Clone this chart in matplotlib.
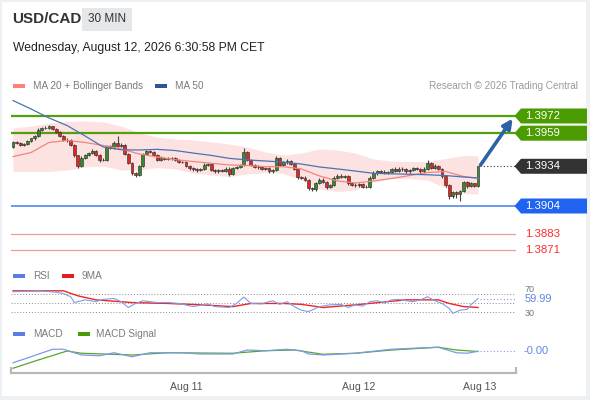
import matplotlib
matplotlib.use("Agg")
import matplotlib.pyplot as plt
from matplotlib.patches import Rectangle, Polygon
from matplotlib import transforms

plt.rcParams['font.family'] = ['Liberation Sans', 'DejaVu Sans']

# ---------------- data ----------------
title = "USD/CAD"
period = "30 MIN"
stamp = "Wednesday, August 12, 2026 6:30:58 PM CET"

first_open = 1.39486
closes = [
    1.39524, 1.39516, 1.39501, 1.39508, 1.39531, 1.39550, 1.39569, 1.39614, 1.39629, 1.39633,
    1.39641, 1.39622, 1.39599, 1.39569, 1.39542, 1.39535, 1.39501, 1.39422, 1.39342, 1.39403,
    1.39425, 1.39440, 1.39456, 1.39425, 1.39391, 1.39388, 1.39493, 1.39478, 1.39516, 1.39493,
    1.39501, 1.39433, 1.39365, 1.39289, 1.39274, 1.39342, 1.39433, 1.39456, 1.39448, 1.39425,
    1.39388, 1.39400, 1.39395, 1.39399, 1.39403, 1.39388, 1.39376, 1.39372, 1.39342, 1.39325,
    1.39316, 1.39312, 1.39320, 1.39350, 1.39354, 1.39312, 1.39301, 1.39312, 1.39304, 1.39323,
    1.39282, 1.39327, 1.39335, 1.39350, 1.39448, 1.39388, 1.39350, 1.39337, 1.39331, 1.39320,
    1.39327, 1.39301, 1.39312, 1.39399, 1.39350, 1.39369, 1.39380, 1.39357, 1.39320, 1.39259,
    1.39255, 1.39236, 1.39176, 1.39165, 1.39214, 1.39240, 1.39221, 1.39184, 1.39199, 1.39255,
    1.39270, 1.39259, 1.39263, 1.39214, 1.39202, 1.39195, 1.39206, 1.39187, 1.39184, 1.39255,
    1.39286, 1.39304, 1.39297, 1.39293, 1.39297, 1.39316, 1.39308, 1.39323, 1.39316, 1.39301,
    1.39312, 1.39327, 1.39320, 1.39301, 1.39323, 1.39365, 1.39327, 1.39342, 1.39320, 1.39263,
    1.39199, 1.39112, 1.39146, 1.39134, 1.39153, 1.39221, 1.39191, 1.39210, 1.39191, 1.39340,
]
# wick lengths in pips above / below the body
up_wick = [
    1, 1, 0.5, 1, 1, 0.5, 1, 1.5, 1, 1,
    1, 0.5, 1, 1, 0.5, 1, 1, 0.5, 0.5, 1.5,
    1, 1, 1.5, 0.5, 1, 1, 1, 1, 1.5, 5,
    1.5, 1, 0.5, 0.5, 1, 1, 1, 1, 1, 1,
    1, 1.5, 1, 1, 1, 1, 1, 0.5, 1, 1,
    1, 1, 1, 1.5, 1, 1, 1, 1, 1, 1,
    1, 1, 1, 1, 3, 1, 1, 1, 1, 1,
    1, 1, 1, 2, 1, 1, 1.5, 1, 1, 0.5,
    1, 1, 1, 1, 1, 1.5, 1, 1, 1, 1,
    1, 1.5, 1, 1, 1, 1, 1, 1, 1, 1,
    1.5, 1, 1, 1.5, 1, 1, 1.5, 1, 1, 1,
    1, 1, 1, 1, 1, 2, 1, 1.5, 1, 1,
    1, 0.5, 1, 1, 1, 1, 1, 1, 0.5, 0.5,
]
dn_wick = [
    1, 1, 1, 0.5, 1, 1, 1, 1, 0.5, 1,
    1, 1, 1, 1, 1, 1, 1, 1, 1.5, 1,
    1, 1, 1, 1, 1.5, 1, 1, 1, 1, 1,
    1, 1, 1, 1.5, 1.5, 1, 1, 1, 1, 1,
    1, 0.5, 1, 1, 1.5, 1, 1, 1, 0.5, 1.5,
    1, 1.5, 1, 1, 1, 1, 1.5, 1, 1, 1,
    1.5, 1, 1, 1, 1, 1, 1, 1, 1.5, 1,
    1, 1, 1, 1, 1, 1, 1, 1, 1, 1.5,
    1, 1, 1.5, 1, 1, 1, 1, 1.5, 1, 1,
    1, 1, 1, 1.5, 1, 1, 1, 1, 1, 1,
    1, 1, 1, 1, 1, 1, 1, 1, 1, 1,
    1, 1, 1, 1, 1, 1, 1, 1, 1, 1.5,
    1.5, 2, 1, 3, 5.5, 1, 1.5, 1, 1, 0.5,
]

# moving averages / bands sampled every 5 candles
ma_idx = [0, 5, 10, 15, 20, 25, 30, 35, 40, 45, 50, 55, 60, 65, 70, 75, 80, 85, 90,
          95, 100, 105, 110, 115, 120, 125, 129]
ma50 = [1.39837, 1.39773, 1.39705, 1.39648, 1.39569, 1.39486, 1.39465, 1.39463, 1.39468,
        1.39459, 1.39440, 1.39422, 1.39400, 1.39388, 1.39380, 1.39372, 1.39357, 1.39335,
        1.39320, 1.39304, 1.39287, 1.39283, 1.39280, 1.39276, 1.39270, 1.39259, 1.39252]
ma20 = [1.39413, 1.39444, 1.39520, 1.39535, 1.39520, 1.39497, 1.39471, 1.39433, 1.39410,
        1.39390, 1.39376, 1.39363, 1.39350, 1.39346, 1.39337, 1.39337, 1.39320, 1.39267,
        1.39229, 1.39214, 1.39229, 1.39248, 1.39270, 1.39293, 1.39301, 1.39263, 1.39248]
bb_up = [1.39629, 1.39644, 1.39667, 1.39678, 1.39682, 1.39675, 1.39644, 1.39592, 1.39561,
         1.39546, 1.39539, 1.39524, 1.39508, 1.39486, 1.39448, 1.39425, 1.39440, 1.39471,
         1.39463, 1.39440, 1.39395, 1.39380, 1.39376, 1.39376, 1.39399, 1.39422, 1.39418]
bb_lo = [1.39301, 1.39301, 1.39301, 1.39312, 1.39335, 1.39342, 1.39312, 1.39312, 1.39331,
         1.39320, 1.39289, 1.39274, 1.39263, 1.39282, 1.39293, 1.39286, 1.39236, 1.39168,
         1.39150, 1.39161, 1.39221, 1.39248, 1.39248, 1.39236, 1.39176, 1.39134, 1.39131]

# key levels
res_levels = [1.3972, 1.3959]
last_price = 1.3934
piv_level = 1.3904
sup_levels = [1.3883, 1.3871]

# RSI and its 9-period MA
rsi_idx = [0, 7, 12, 14, 16, 17, 20, 23, 25, 28, 30, 32, 34, 36, 40, 43, 46, 50, 54, 56,
           60, 62, 64, 66, 69, 71, 72, 74, 76, 78, 80, 82, 85, 88, 91, 93, 95, 97, 99, 101,
           103, 105, 107, 109, 111, 113, 115, 117, 119, 121, 122, 124, 126, 127, 129]
rsi_val = [75, 77, 74, 71, 64, 51, 57, 53, 58, 60, 53, 40, 49, 55, 51, 51, 49, 42, 48, 42,
           40, 49, 63, 49, 48, 53, 55, 47, 53, 42, 34, 31, 42, 46, 47, 40, 46, 43, 53, 55,
           50, 57, 58, 55, 53, 57, 64, 55, 49, 38, 27, 34, 36, 46, 59.99]
rma_idx = [0, 14, 18, 23, 33, 43, 52, 61, 66, 75, 80, 86, 95, 104, 109, 118, 121, 125, 129]
rma_val = [77, 77, 66, 57, 51, 49, 46, 42, 49, 49, 47, 40, 46, 53, 57, 57, 49, 42, 40]
rsi_levels = [70, 50, 30]

# MACD and signal
macd_idx = [0, 5, 11, 14, 17, 19, 24, 28, 33, 38, 47, 52, 61, 65, 70, 76, 80, 82, 86, 95,
            105, 114, 118, 123, 126, 129]
macd_val = [-0.00047, -0.00023, 0.00007, 0.00007, -0.00007, -0.00016, -0.00019, -0.00007,
            -0.00023, -0.00007, -0.00007, -0.00012, -0.00012, 0.00004, 0.00001, 0.00007,
            0.00001, -0.00012, -0.00016, -0.00009, 0.00007, 0.00013, 0.00015, -0.00007,
            -0.00009, -0.00001]
sig_idx = [0, 7, 15, 19, 33, 43, 61, 70, 78, 86, 95, 105, 118, 123, 129]
sig_val = [-0.00069, -0.00036, 0.0, -0.00009, -0.00016, -0.00007, -0.00009, 0.00001,
           0.00004, -0.00013, -0.00009, 0.00004, 0.00015, 0.00004, -0.00002]

date_ticks = [48, 96, 129.5]
date_labels = ["Aug 11", "Aug 12", "Aug 13"]

# ---------------- layout helpers ----------------
W, H = 590, 400
fig = plt.figure(figsize=(W / 100, H / 100), dpi=100)
fig.patch.set_facecolor('#eef1f4')
fig.add_artist(Rectangle((2 / W, 1 - 396 / H), 584 / W, 394 / H, transform=fig.transFigure,
                         facecolor='white', edgecolor='none', zorder=0))


def fx(x):
    return x / W


def fy(y):
    return 1 - y / H


XL = (-0.555, 139.53)
AX_L, AX_W = fx(11), 505 / W

# ---------------- header ----------------
fig.text(fx(12), fy(19), title, fontsize=11, fontweight='bold', color='#333333',
         va='center', ha='left')
fig.add_artist(Rectangle((fx(82), fy(31)), 50 / W, 23 / H, transform=fig.transFigure,
                         facecolor='#e6e7e9', edgecolor='none'))
fig.text(fx(107), fy(19.5), period, fontsize=8.5, color='#333333', va='center', ha='center')
fig.text(fx(13), fy(48), stamp, fontsize=8.7, color='#222222', va='center', ha='left')

# legend row
fig.add_artist(Rectangle((fx(13), fy(88)), 12 / W, 4 / H, transform=fig.transFigure,
                         facecolor='#ff7f7f', edgecolor='none'))
fig.text(fx(33), fy(86), "MA 20 + Bollinger Bands", fontsize=7.2, color='#7a7a7a', va='center')
fig.add_artist(Rectangle((fx(155), fy(88)), 12 / W, 4 / H, transform=fig.transFigure,
                         facecolor='#2f5597', edgecolor='none'))
fig.text(fx(175), fy(86), "MA 50", fontsize=7.2, color='#7a7a7a', va='center')
fig.text(fx(578), fy(86), "Research \u00a9 2026 Trading Central", fontsize=7.2,
         color='#9a9a9a', va='center', ha='right')

# ---------------- main price panel ----------------
ax = fig.add_axes([AX_L, fy(262), AX_W, 167 / H])
ax.set_xlim(*XL)
ax.set_ylim(1.386169, 1.398786)
ax.axis('off')

ax.fill_between(ma_idx, bb_lo, bb_up, color='#fde2e2', lw=0, zorder=1)

opens = [first_open] + closes[:-1]
for i, (o, c) in enumerate(zip(opens, closes)):
    top, bot = max(o, c), min(o, c)
    hi = top + up_wick[i] * 0.0001
    lo = bot - dn_wick[i] * 0.0001
    col = '#358a2c' if c >= o else '#e3241f'
    ax.vlines(i, lo, hi, color='#444444', lw=0.8, zorder=3)
    ax.bar(i, max(top - bot, 0.00003), bottom=bot, width=0.8, color=col,
           edgecolor='#333333', lw=0.45, zorder=4)

ax.plot(ma_idx, ma20, color='#f4847c', lw=0.9, zorder=5)
ax.plot(ma_idx, ma50, color='#4a73b5', lw=0.9, zorder=5)

for p in res_levels:
    ax.axhline(p, color='#52a00f', lw=1.6, zorder=2)
ax.axhline(piv_level, color='#4f89ee', lw=1.2, zorder=2)
for p in sup_levels:
    ax.axhline(p, color='#f39a9a', lw=0.9, zorder=2)

ax.plot([len(closes) - 0.5, XL[1]], [last_price, last_price], ls=(0, (1, 2)),
        color='#333333', lw=0.8, zorder=2)

blend = transforms.blended_transform_factory(ax.transAxes, ax.transData)
half = 7.5 / 13236


def ax_frac(px):
    return (px - 11) / 505


def tag(p, fc):
    poly = Polygon([(ax_frac(514.5), p), (ax_frac(521), p + half), (ax_frac(587), p + half),
                    (ax_frac(587), p - half), (ax_frac(521), p - half)], closed=True,
                   transform=blend, facecolor=fc, edgecolor='none', clip_on=False, zorder=6)
    ax.add_patch(poly)
    ax.text(ax_frac(525), p, f"{p:.4f}", transform=blend, color='white', fontsize=8.2,
            va='center', ha='left', clip_on=False, zorder=7)


for p in res_levels:
    tag(p, '#4a9c00')
tag(last_price, '#333333')
tag(piv_level, '#1f63f0')
for p in sup_levels:
    ax.text(ax_frac(525), p, f"{p:.4f}", transform=blend, color='#ff2a2a', fontsize=8.2,
            va='center', ha='left', clip_on=False)

ax.annotate('', xy=(138.6, 1.39700), xytext=(129.7, 1.39350),
            arrowprops=dict(arrowstyle='-|>', color='#2f62a5', lw=2.6, mutation_scale=14,
                            shrinkA=0, shrinkB=0), zorder=8, annotation_clip=False)

# ---------------- RSI panel ----------------
ax2 = fig.add_axes([AX_L, fy(322), AX_W, 42 / H])
ax2.set_xlim(*XL)
ax2.set_ylim(7.8, 101.1)
ax2.axis('off')
for lv in rsi_levels:
    ax2.axhline(lv, color='#8a8a8a', ls=(0, (1, 2)), lw=0.7)
ax2.plot(rsi_idx, rsi_val, color='#7f9de8', lw=0.8, zorder=3)
ax2.plot(rma_idx, rma_val, color='#ee2424', lw=1.0, zorder=2)
ax2.plot([rsi_idx[-1] + 0.5, XL[1]], [rsi_val[-1]] * 2, color='#7f9de8', ls=(0, (1, 2)),
         lw=0.8)
b2 = transforms.blended_transform_factory(ax2.transAxes, ax2.transData)
ax2.text(ax_frac(525), 79, "70", transform=b2, fontsize=6.5, color='#777777', va='center',
         clip_on=False)
ax2.text(ax_frac(525), 26, "30", transform=b2, fontsize=6.5, color='#777777', va='center',
         clip_on=False)
ax2.text(ax_frac(525), rsi_val[-1] - 1, f"{rsi_val[-1]:.2f}", transform=b2, fontsize=8,
         color='#5f86e0', va='center', clip_on=False)

fig.add_artist(Rectangle((fx(13), fy(278)), 12 / W, 4 / H, transform=fig.transFigure,
                         facecolor='#5b7fe0', edgecolor='none'))
fig.text(fx(33), fy(276), "RSI", fontsize=7.2, color='#7a7a7a', va='center')
fig.add_artist(Rectangle((fx(62), fy(278)), 12 / W, 4 / H, transform=fig.transFigure,
                         facecolor='#e81c1c', edgecolor='none'))
fig.text(fx(82), fy(276), "9MA", fontsize=7.2, color='#7a7a7a', va='center')

# ---------------- MACD panel ----------------
ax3 = fig.add_axes([AX_L, fy(372.5), AX_W, 32.5 / H])
ax3.set_xlim(*XL)
ax3.set_ylim(-0.00086, 0.00044)
for s in ['top', 'right', 'left']:
    ax3.spines[s].set_visible(False)
ax3.spines['bottom'].set_color('#b8b8b8')
ax3.spines['bottom'].set_linewidth(1.6)
ax3.set_yticks([])
ax3.set_xticks(date_ticks)
ax3.set_xticklabels(date_labels, fontsize=7.6, color='#555555')
ax3.tick_params(axis='x', length=0, pad=6.5)
ax3.patch.set_alpha(0)
for xa in (0, 1):
    ax3.plot([xa, xa], [-0.03, 0.16], transform=ax3.transAxes, color='#b8b8b8', lw=1.6,
             clip_on=False, solid_capstyle='butt')
ax3.plot(sig_idx, sig_val, color='#55a52a', lw=0.9, zorder=2)
ax3.plot(macd_idx, macd_val, color='#7b9be6', lw=0.9, zorder=3)
ax3.plot([macd_idx[-1] + 0.5, XL[1]], [macd_val[-1]] * 2, color='#7b9be6', ls=(0, (1, 2)),
         lw=0.8)
b3 = transforms.blended_transform_factory(ax3.transAxes, ax3.transData)
ax3.text(ax_frac(524), macd_val[-1], f"{macd_val[-1]:.2f}", transform=b3, fontsize=8,
         color='#5f86e0', va='center', clip_on=False)

fig.add_artist(Rectangle((fx(13), fy(336)), 12 / W, 4 / H, transform=fig.transFigure,
                         facecolor='#5b7fe0', edgecolor='none'))
fig.text(fx(33), fy(334), "MACD", fontsize=7.2, color='#7a7a7a', va='center')
fig.add_artist(Rectangle((fx(78), fy(336)), 12 / W, 4 / H, transform=fig.transFigure,
                         facecolor='#4a9a0a', edgecolor='none'))
fig.text(fx(96), fy(334), "MACD Signal", fontsize=7.2, color='#7a7a7a', va='center')

fig.savefig("out.png", dpi=100, facecolor=fig.get_facecolor())
